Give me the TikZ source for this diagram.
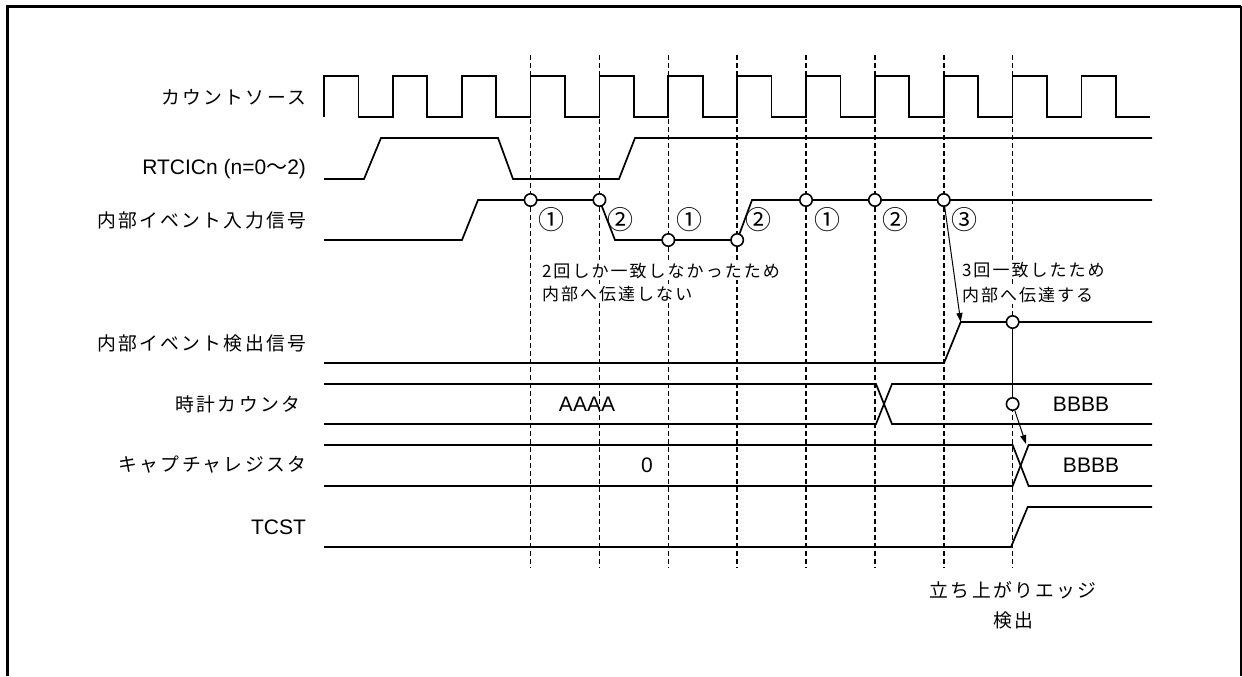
\documentclass[tikz,border=0pt]{standalone}
\usepackage{fontspec}
\setmainfont{Liberation Sans}
\newfontfamily\jpfont[LetterSpace=12]{Noto Sans CJK JP}
\usetikzlibrary{arrows.meta}

\tikzset{
  signal/.style={line width=0.85pt},
  edgeline/.style={line width=0.75pt, dash pattern=on 2.5pt off 1.5pt},
  probe/.style={circle, draw, fill=white, line width=0.8pt, inner sep=0pt, minimum size=6.2pt},
  sigl/.style={anchor=east, font=\jpfont\fontsize{9.4pt}{11pt}\selectfont},
  note/.style={anchor=west, fill=white, inner sep=0.8pt, font=\jpfont\fontsize{8.5pt}{10pt}\selectfont},
  val/.style={font=\fontsize{10.5pt}{12pt}\selectfont},
  arr/.style={-{Triangle[length=4.5pt,width=3pt]}, line width=0.5pt}
}

\begin{document}
\begin{tikzpicture}[x=0.5pt,y=-0.5pt]
\useasboundingbox (0,0) rectangle (1242,676);
% frame
\draw[line width=1.5pt] (7,676) -- (7,6) -- (1241,6);
\draw[line width=0.8pt] (1241,6) -- (1241,676);

% dashed lines on the rising edges
\foreach \k in {3,...,10}
  \draw[edgeline] ({324+68.86*\k},55) -- ({324+68.86*\k},568);

% count source
\draw[signal] (324,117) foreach \k in {1,...,12} { |- ++(34.43,-41) |- ++(34.43,41) };
% RTCICn
\draw[signal] (324,179) -- (364,179) -- (381,138) -- (498,138) -- (513,179)
  -- (619,179) -- (635,138) -- (1152,138);
% internal event input
\draw[signal] (324,240) -- (462,240) -- (478,200) -- (599.4,200) -- (615,240)
  -- (737.2,240) -- (752,200) -- (1152,200);
% internal event detection
\draw[signal] (324,363) -- (944,363) -- (960.7,322) coordinate (dt) -- (1152,322);
% counter
\draw[signal] (324,384) -- (876,384) -- (892,424) -- (1152,424);
\draw[signal] (324,424) -- (876,424) -- (892,384) -- (1152,384);
% capture register
\draw[signal] (324,445) -- (1012.6,445) -- (1028.6,486) -- (1152,486);
\draw[signal] (324,486) -- (1012.6,486) -- (1028.6,445) -- (1152,445);
% TCST
\draw[signal] (324,547) -- (1011,547) -- (1027.7,507) -- (1152,507);

% sampling points
\foreach \k/\lvl/\num [count=\i] in {3/200/①, 4/200/②, 5/240/①, 6/240/②, 7/200/①, 8/200/②, 9/200/③}{
  \node[probe] (p\i) at ({324+68.86*\k},\lvl) {};
  \node[font=\jpfont\fontsize{13pt}{14pt}\selectfont] (n\i) at ({324+68.86*\k+21},220) {\num};
}
\coordinate (cx) at (1026,444);
\node[probe] (d1) at (1012.6,322) {};
\node[probe] (c1) at (1012.6,404) {};
\draw[arr] (p7) -- (dt);
\draw[signal] (d1) -- (c1);
\draw[arr] (c1) -- (cx);

% signal names
\node[sigl] (src) at (313,97) {カウントソース};
\node[sigl, font=\fontsize{10.5pt}{12pt}\selectfont] (rtc) at (313,169) {RTCICn (n=0{\jpfont ～}2)};
\node[sigl] (ein) at (313,220) {内部イベント入力信号};
\node[sigl] (edet) at (313,343) {内部イベント検出信号};
\node[sigl] (cnt) at (307,404) {時計カウンタ};
\node[sigl] (cap) at (313,465) {キャプチャレジスタ};
\node[sigl, font=\fontsize{10.5pt}{12pt}\selectfont] (tcst) at (313,527) {TCST};

% values
\node[val] (va) at (587,404) {AAAA};
\node[val] (vb) at (1081,404) {BBBB};
\node[val] (v0) at (647,465) {0};
\node[val] (vc) at (1091,465) {BBBB};

% notes
\node[note] (m1) at (540,271) {2回しか一致しなかったため};
\node[note] (m2) at (540,294) {内部へ伝達しない};
\node[note] (m3) at (960,270) {3回一致したため};
\node[note] (m4) at (960,295) {内部へ伝達する};
\node[font=\jpfont\fontsize{9.4pt}{11pt}\selectfont] (r1) at (1013,590) {立ち上がりエッジ};
\node[font=\jpfont\fontsize{9.4pt}{11pt}\selectfont] (r2) at (1013,620) {検出};
\end{tikzpicture}
\end{document}
